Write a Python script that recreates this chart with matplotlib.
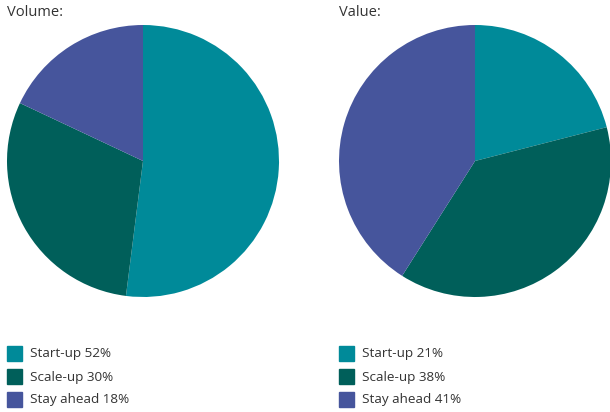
import matplotlib
matplotlib.use("Agg")
import matplotlib.pyplot as plt
from matplotlib.patches import Rectangle

# data
labels = ["Start-up", "Scale-up", "Stay ahead"]
volume = [52, 30, 18]
value = [21, 38, 41]
colors = ["#008a99", "#005f5a", "#46559c"]

W, H = 610, 412
fig = plt.figure(figsize=(W / 100, H / 100), dpi=100)
plt.rcParams["font.family"] = ["Open Sans", "DejaVu Sans"]


def px_axes(x0, y0, w, h):
    # pixel box (top-left origin) -> figure axes
    return fig.add_axes([x0 / W, (H - y0 - h) / H, w / W, h / H])


def draw_pie(x0, title, vals):
    ax = px_axes(x0, 25, 272, 272)
    ax.pie(vals, colors=colors, startangle=90, counterclock=False,
           radius=1, wedgeprops=dict(linewidth=0))
    ax.set_xlim(-1, 1)
    ax.set_ylim(-1, 1)
    ax.set_aspect("equal")
    ax.axis("off")

    fig.text(x0 / W, 1 - 13 / H, title, fontsize=10.5,
             color="#333333", va="center", ha="left")

    # legend
    for i, (lab, v) in enumerate(zip(labels, vals)):
        yc = 353 + i * 23
        fig.patches.append(Rectangle((x0 / W, 1 - (yc + 7.5) / H),
                                     15 / W, 15 / H, color=colors[i],
                                     transform=fig.transFigure))
        fig.text((x0 + 23) / W, 1 - (yc + 1) / H, f"{lab} {v}%",
                 fontsize=9.7, color="#333333", va="center", ha="left")


draw_pie(7, "Volume:", volume)
draw_pie(339, "Value:", value)

fig.savefig("out.png", dpi=100)
